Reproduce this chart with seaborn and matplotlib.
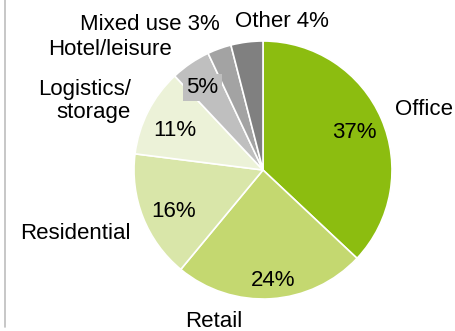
import matplotlib
matplotlib.use("Agg")
import matplotlib.pyplot as plt
from matplotlib.lines import Line2D
import seaborn as sns

# Share of investment volume by sector
sectors = ["Office", "Retail", "Residential", "Logistics/\nstorage",
           "Hotel/leisure", "Mixed use", "Other"]
shares = [37, 24, 16, 11, 5, 3, 4]
colors = ["#8CBD10", "#C4D870", "#D9E6A9", "#ECF2D8",
          "#BFBFBF", "#A3A3A3", "#808080"]

sns.set_theme(style="white")
plt.rcParams["font.family"] = ["Liberation Sans", "DejaVu Sans"]
plt.rcParams["text.color"] = "black"

W, H, DPI = 455, 331, 100
fig = plt.figure(figsize=(W / DPI, H / DPI), dpi=DPI)
fig.patch.set_facecolor("white")

cx, cy, r = 263, 170, 129
ax = fig.add_axes([(cx - r) / W, (H - cy - r) / H, 2 * r / W, 2 * r / H])
ax.pie(shares, colors=colors, startangle=90, counterclock=False, radius=1,
       wedgeprops=dict(edgecolor="white", linewidth=1.2))
ax.set_xlim(-1, 1)
ax.set_ylim(-1, 1)
ax.set_aspect("equal")
ax.axis("off")

fs = 16
kw = dict(fontsize=fs, color="black", va="baseline")
pct = {s: f"{v}%" for s, v in zip(sectors, shares)}

# category names (outside) and value labels (inside)
ax.text(1.248, 0.426, sectors[0], ha="center", **kw)
ax.text(0.709, 0.248, pct[sectors[0]], ha="center", **kw)
ax.text(-0.384, -1.217, sectors[1], ha="center", **kw)
ax.text(0.081, -0.899, pct[sectors[1]], ha="center", **kw)
ax.text(-1.453, -0.535, sectors[2], ha="center", **kw)
ax.text(-0.694, -0.364, pct[sectors[2]], ha="center", **kw)
ax.text(-1.023, 0.403, sectors[3], ha="right", multialignment="right",
        linespacing=1.15, **kw)
ax.text(-0.686, 0.264, pct[sectors[3]], ha="center", **kw)
ax.text(-1.186, 0.891, sectors[4], ha="center", **kw)
ax.text(-0.469, 0.597, pct[sectors[4]], ha="center",
        bbox=dict(boxstyle="square,pad=0.15", facecolor=colors[4], edgecolor="none"),
        **kw)
ax.text(-0.876, 1.085, f"{sectors[5]} {pct[sectors[5]]}", ha="center", **kw)
ax.text(0.143, 1.109, f"{sectors[6]} {pct[sectors[6]]}", ha="center", **kw)

# thin frame edge on the left
fig.add_artist(Line2D([4.5 / W, 4.5 / W], [4 / H, 1], transform=fig.transFigure,
                      color="#BDBDBD", linewidth=1.2))

fig.savefig("out.png", dpi=DPI, facecolor="white")
